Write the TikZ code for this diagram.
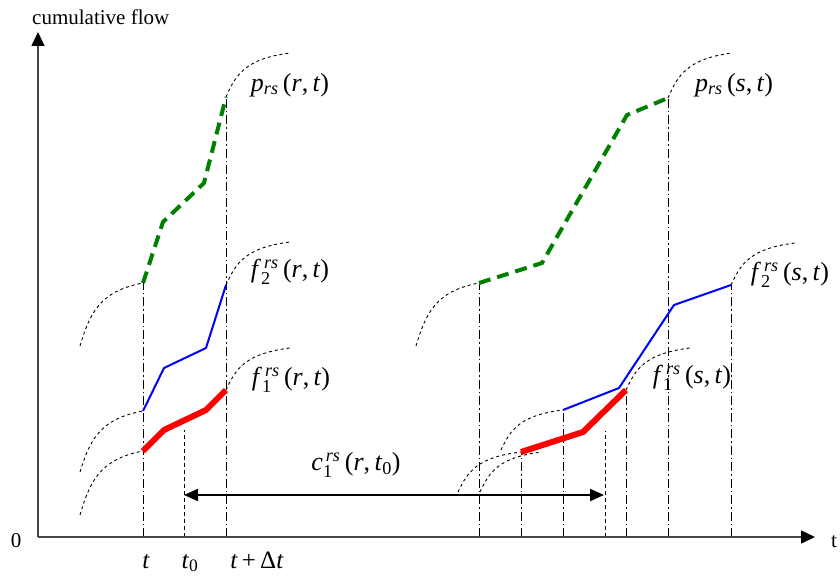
\documentclass[tikz,border=0pt]{standalone}
\usepackage{amsmath}
\usepackage{fontspec}
\setmainfont{Liberation Serif}
\usetikzlibrary{arrows.meta,calc}
\definecolor{grn}{RGB}{0,128,0}
\definecolor{axisgray}{RGB}{70,70,70}
\newcommand\flowcurve[3]{\draw[fcurve] (#1) .. controls ($(#1)+(0.15*#2,-0.5*#3)$) and ($(#1)+(0.3*#2,-0.87*#3)$) .. ($(#1)+(#2,-#3)$);}
\newcommand\mi[1]{\textit{#1}}
\begin{document}
\begin{tikzpicture}[x=1pt,y=-1pt,
  axis/.style={draw=axisgray,line width=1.5pt,-{Triangle[length=14pt,width=13pt,fill=black,color=black]}},
  vdd/.style={draw=black,line width=0.9pt,dash pattern=on 9pt off 3pt on 1.5pt off 3pt},
  vdash/.style={draw=black,line width=0.9pt,dash pattern=on 4pt off 3pt},
  fcurve/.style={draw=black,line width=0.9pt,dash pattern=on 3pt off 3pt},
  pline/.style={draw=grn,line width=4pt,dash pattern=on 12pt off 7pt},
  f2line/.style={draw=blue,line width=2pt,line join=round},
  f1line/.style={draw=red,line width=6pt,line join=miter},
  dbl/.style={draw=black,line width=2pt,{Triangle[length=14pt,width=12pt]}-{Triangle[length=14pt,width=12pt]}},
  lbl/.style={font=\fontsize{26}{30}\selectfont,inner sep=0pt},
  tl/.style={font=\fontsize{25}{29}\selectfont,inner sep=0pt,anchor=base},
  txt/.style={font=\fontsize{21}{25}\selectfont,inner sep=0pt}]
\useasboundingbox (0,0) rectangle (840,583);
% key points
\coordinate (O) at (38,537);
\coordinate (xend) at (815,537);
\coordinate (yend) at (38,32);
\coordinate (gL0) at (143,283); \coordinate (gL1) at (163,222); \coordinate (gL2) at (204,183); \coordinate (gL3) at (226,97);
\coordinate (bL0) at (143,411); \coordinate (bL1) at (164,368); \coordinate (bL2) at (206,348); \coordinate (bL3) at (226,285);
\coordinate (rL0) at (143,451); \coordinate (rL1) at (164,430); \coordinate (rL2) at (206,410); \coordinate (rL3) at (226,390);
\coordinate (gR0) at (479,283); \coordinate (gR1) at (542,263); \coordinate (gR2) at (627,115); \coordinate (gR3) at (668,98);
\coordinate (bR0) at (563,410); \coordinate (bR1) at (619,388); \coordinate (bR2) at (674,305); \coordinate (bR3) at (731,285);
\coordinate (rR0) at (521,452); \coordinate (rR1) at (583,432); \coordinate (rR2) at (626,390);
\coordinate (t0L) at (184,430); \coordinate (t0R) at (605,431);
\coordinate (aL) at (184,495); \coordinate (aR) at (604,495);
% curve starts
\coordinate (cgL) at (80,346); \coordinate (cbL) at (80,472); \coordinate (crL) at (80,515);
\coordinate (cgR) at (416,346); \coordinate (cbR) at (501,450); \coordinate (crR) at (458,492); \coordinate (cxR) at (480,492);
% verticals
\draw[vdd] (gL0 |- O) -- (gL0);
\draw[vdd] (gL3 |- O) -- (gL3);
\draw[vdash] (t0L |- O) -- (t0L);
\draw[vdd] (gR0 |- O) -- (gR0);
\draw[vdd] (rR0 |- O) -- (rR0);
\draw[vdd] (bR0 |- O) -- (bR0);
\draw[vdash] (t0R |- O) -- (t0R);
\draw[vdd] (rR2 |- O) -- (rR2);
\draw[vdd] (gR3 |- O) -- (gR3);
\draw[vdd] (bR3 |- O) -- (bR3);
% dashed cumulative curves
\flowcurve{cgL}{63}{63}
\flowcurve{cbL}{63}{61}
\flowcurve{crL}{63}{64}
\flowcurve{cgR}{63}{63}
\flowcurve{cbR}{62}{40}
\flowcurve{crR}{63}{40}
\flowcurve{cxR}{62}{40}
\flowcurve{gL3}{64}{44}
\flowcurve{bL3}{64}{43}
\flowcurve{rL3}{64}{42}
\flowcurve{gR3}{64}{45}
\flowcurve{bR3}{64}{42}
\flowcurve{rR2}{64}{42}
% flows
\draw[pline] (gL0) -- (gL1) -- (gL2) -- (gL3);
\draw[f2line] (bL0) -- (bL1) -- (bL2) -- (bL3);
\draw[f1line] (rL0) -- (rL1) -- (rL2) -- (rL3);
\draw[pline] (gR0) -- (gR1) -- (gR2) -- (gR3);
\draw[f2line] (bR0) -- (bR1) -- (bR2) -- (bR3);
\draw[f1line] (rR0) -- (rR1) -- (rR2);
% axes
\draw[axis] (O) -- (xend);
\draw[axis] (O) -- (yend);
\draw[dbl] (aL) -- (aR);
% labels
\node[txt,anchor=base west] (ylab) at (32,25) {cumulative flow};
\node[txt] (zero) at (16,541) {0};
\node[txt] (tlab) at (834,542) {t};
\node[lbl] (lpr) at (290,85) {\mi{p}\textsubscript{\mi{rs}}\,(\mi{r},\,\mi{t})};
\node[lbl] (lf2r) at (290,272) {\mi{f}$^{\,\mi{rs}}_{\text{2}}$\,(\mi{r},\,\mi{t})};
\node[lbl] (lf1r) at (291,380) {\mi{f}$^{\,\mi{rs}}_{\text{1}}$\,(\mi{r},\,\mi{t})};
\node[lbl] (lps) at (734,85) {\mi{p}\textsubscript{\mi{rs}}\,(\mi{s},\,\mi{t})};
\node[lbl] (lf2s) at (790,275) {\mi{f}$^{\,\mi{rs}}_{\text{2}}$\,(\mi{s},\,\mi{t})};
\node[lbl] (lf1s) at (692,378) {\mi{f}$^{\,\mi{rs}}_{\text{1}}$\,(\mi{s},\,\mi{t})};
\node[lbl] (lc) at (356,465) {\mi{c}$^{\,\mi{rs}}_{\text{1}}$\,(\mi{r},\,\mi{t}\textsubscript{0})};
\node[tl] (ta) at (146,568) {\mi{t}};
\node[tl] (tb) at (190,568) {\mi{t}\textsubscript{0}};
\node[tl] (tc) at (257,568) {\mi{t}\,+\,Δ\mi{t}};
\end{tikzpicture}
\end{document}
